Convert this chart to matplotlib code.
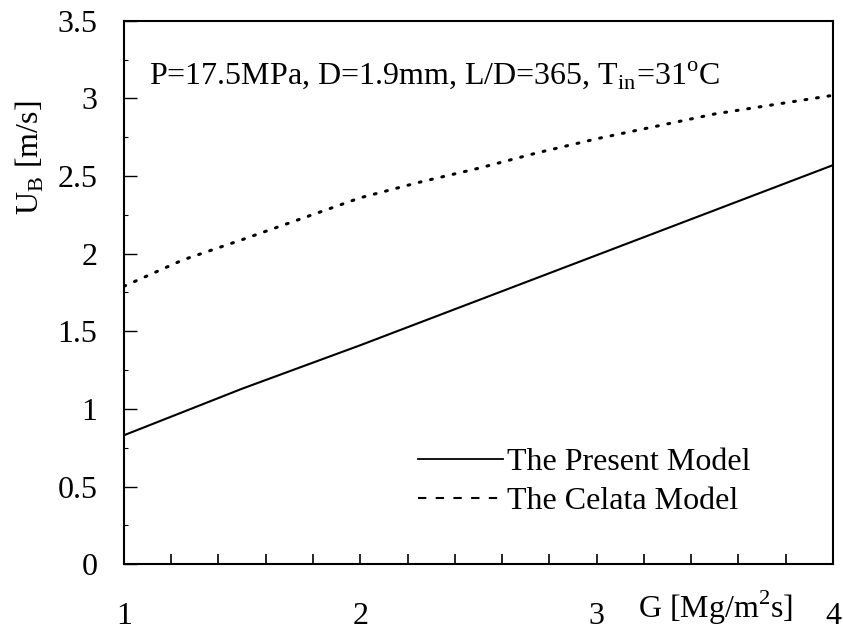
import matplotlib
matplotlib.use('Agg')
import matplotlib.pyplot as plt
from matplotlib.lines import Line2D
from matplotlib.ticker import MultipleLocator, FuncFormatter

plt.rcParams['font.family'] = ['Liberation Serif', 'DejaVu Serif']
plt.rcParams['mathtext.fontset'] = 'custom'
plt.rcParams['mathtext.rm'] = 'Liberation Serif'

# data
G = [1.0, 1.5, 2.0, 2.5, 3.0, 3.5, 4.0]
u_present = [0.83, 1.13, 1.41, 1.70, 1.99, 2.28, 2.57]

G_celata = [1.0, 1.25, 1.5, 2.0, 2.25, 2.5, 2.75, 3.0, 3.5, 4.0]
u_celata = [1.79, 1.96, 2.09, 2.36, 2.46, 2.55, 2.65, 2.74, 2.90, 3.02]

x_ticks = [1, 2, 3, 4]
x_ticklabels = ['1', '2', '3', '4']

fig = plt.figure(figsize=(8.43, 6.31), dpi=100)
ax = fig.add_axes([0.147, 0.106, 0.841, 0.861])

ax.plot(G, u_present, color='black', lw=1.5)
ax.plot(G_celata, u_celata, color='black', lw=2.2, linestyle=(0, (0.6, 3.2)),
        dash_capstyle='round')

ax.set_xlim(1, 4)
ax.set_ylim(0, 3.5)

ax.set_xticks(x_ticks)
ax.set_xticklabels(x_ticklabels)
ax.xaxis.set_minor_locator(MultipleLocator(0.2))
ax.yaxis.set_major_locator(MultipleLocator(0.5))
ax.yaxis.set_minor_locator(MultipleLocator(0.25))
ax.yaxis.set_major_formatter(FuncFormatter(lambda v, p: '%g' % v))

ax.tick_params(axis='x', which='major', direction='in', length=7, width=1.2, pad=27, labelsize=23)
ax.tick_params(axis='x', which='minor', direction='in', length=7, width=1.2)
ax.tick_params(axis='y', which='major', direction='in', length=9, width=1.0, pad=19, labelsize=23)
ax.tick_params(axis='y', which='minor', direction='in', length=3, width=0.8)
ax.tick_params(top=False, right=False)

for s in ax.spines.values():
    s.set_linewidth(1.5)

# x label sits next to the tick labels, between 3 and 4
fig.text(716 / 843, 1 - 608 / 631, 'G [Mg/m$^2$s]', fontsize=23, ha='center', va='center')
fig.text(30 / 843, 1 - 158 / 631, 'U$_\\mathrm{B}$ [m/s]', fontsize=23, rotation=90,
         ha='center', va='center')

ax.text(0.035, 0.9, 'P=17.5MPa, D=1.9mm, L/D=365, T$_{\\mathrm{in}}$=31$^{\\mathrm{o}}$C',
        transform=ax.transAxes, fontsize=23, ha='left', va='center')

handles = [Line2D([], [], color='black', lw=1.3),
           Line2D([], [], color='black', lw=1.5, linestyle=(0, (4, 4.5)))]
ax.legend(handles, ['The Present Model', 'The Celata Model'], loc='lower right',
          bbox_to_anchor=(0.925, 0.035), frameon=False, fontsize=23, handlelength=2.66,
          handletextpad=0.15, labelspacing=0.3)

fig.savefig('out.png', dpi=100)
